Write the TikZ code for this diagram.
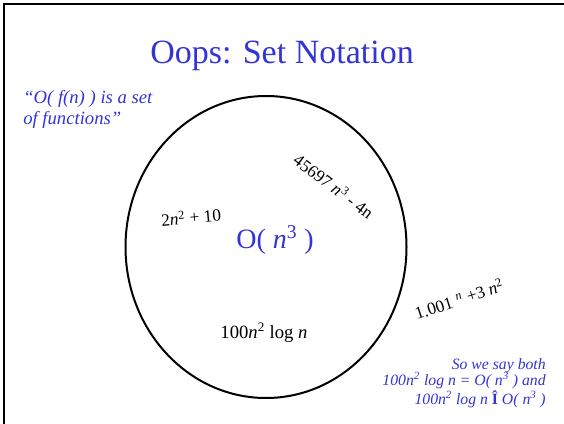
\documentclass[tikz,border=0pt]{standalone}
\usepackage{fontspec}
\setmainfont{Liberation Serif}
\usetikzlibrary{shapes.geometric}
\definecolor{slideblue}{RGB}{51,51,214}
\begin{document}
\begin{tikzpicture}[x=0.75pt,y=-0.75pt,
  lbl/.style={inner sep=0pt,font=\fontsize{13}{15}\selectfont},
  bluetxt/.style={inner sep=0pt,text=slideblue}]
\useasboundingbox (0,0) rectangle (564,424);
\draw[line width=2.2pt] (3,4) -- (564,4);
\draw[line width=2.2pt] (4,4) -- (4,424);
\node[bluetxt,font=\fontsize{25.5}{28}\selectfont] (title) at (282,56) {Oops: Set Notation};
\node[draw,ellipse,line width=1.5pt,minimum width=281*0.75pt,minimum height=302*0.75pt,inner sep=0pt] (set) at (266,247) {};
\node[bluetxt,font=\fontsize{21}{24}\selectfont] (on3) at (275,240) {O( \textit{n}\textsuperscript{3} )};
\node[lbl,rotate=5] (f1) at (191,217) {2\textit{n}\textsuperscript{2} + 10};
\node[lbl,rotate=-37] (f2) at (334,186) {45697 \textit{n}\textsuperscript{3} - 4n};
\node[lbl,rotate=18] (f3) at (459,299) {1.001 \textsuperscript{\textit{n}} +3 \textit{n}\textsuperscript{2}};
\node[lbl,font=\fontsize{14}{16}\selectfont] (f4) at (264,333) {100\textit{n}\textsuperscript{2} log \textit{n}};
\node[bluetxt,anchor=north west,align=left,font=\fontsize{14}{16}\selectfont\itshape] (quote) at (23,90) {“O( f(n) ) is a set\\of functions”};
\node[bluetxt,anchor=north east,align=right,font=\fontsize{11.8}{12.4}\selectfont\itshape] (say) at (546,358) {So we say both\\100n\textsuperscript{2} log n = O( n\textsuperscript{3} ) and\\100n\textsuperscript{2} log n \textbf{\upshape Î} O( n\textsuperscript{3} )};
\end{tikzpicture}
\end{document}
